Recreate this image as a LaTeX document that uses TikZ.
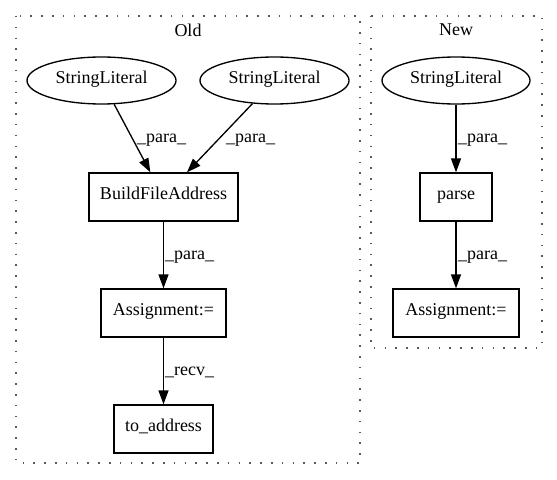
\documentclass[tikz,border=0pt]{standalone}
\usepackage{fontspec}
\setmainfont{Liberation Serif}
\usetikzlibrary{shapes.geometric,arrows.meta}
\begin{document}
\begin{tikzpicture}[x=1bp,y=-1bp,
  every node/.style={font=\fontsize{18bp}{22bp}\selectfont, inner sep=0pt},
  ell/.style={draw, ellipse, line width=1.33bp, minimum width=149bp, minimum height=47bp, text height=0.72em, text depth=0.2em},
  boxn/.style={draw, rectangle, line width=1.33bp, minimum height=48bp, text height=0.72em, text depth=0.2em},
  edge/.style={draw, line width=1.33bp, -{Triangle[length=14bp,width=10bp]}},
  lbl/.style={anchor=base west},
  clus/.style={draw, line width=1.33bp, dash pattern=on 1.5bp off 9.3bp, gray!70!black}
]
\useasboundingbox (0,0) rectangle (557,480);
% clusters
\draw[clus] (16,16) rectangle (360,463);
\draw[clus] (371,16) rectangle (542,348);
\node (tOld) at (188,30) {Old};
\node (tNew) at (456,30) {New};
% nodes
\node[ell] (sl1) at (101.5,80.5) {StringLiteral};
\node[ell] (sl2) at (274.5,80.5) {StringLiteral};
\node[boxn, minimum width=149bp] (bfa) at (163.5,197) {BuildFileAddress};
\node[boxn, minimum width=125bp] (as1) at (163.5,313) {Assignment:=};
\node[boxn, minimum width=99bp] (toa) at (163.5,429) {to\_address};
\node[ell, minimum width=148bp] (sl3) at (456,80.5) {StringLiteral};
\node[boxn, minimum width=72bp] (parse) at (456,197) {parse};
\node[boxn, minimum width=126bp] (as2) at (456,313) {Assignment:=};
% edges
\draw[edge] (sl1) -- (bfa);
\draw[edge] (sl2) -- (bfa);
\draw[edge] (bfa) -- (as1);
\draw[edge] (as1) -- (toa);
\draw[edge] (sl3) -- (parse);
\draw[edge] (parse) -- (as2);
% labels
\node[lbl] (l1) at (137,143) {\_para\_};
\node[lbl] (l2) at (226,143) {\_para\_};
\node[lbl] (l3) at (165,259) {\_para\_};
\node[lbl] (l4) at (165,375) {\_recv\_};
\node[lbl] (l5) at (458,143) {\_para\_};
\node[lbl] (l6) at (458,259) {\_para\_};
\end{tikzpicture}
\end{document}
